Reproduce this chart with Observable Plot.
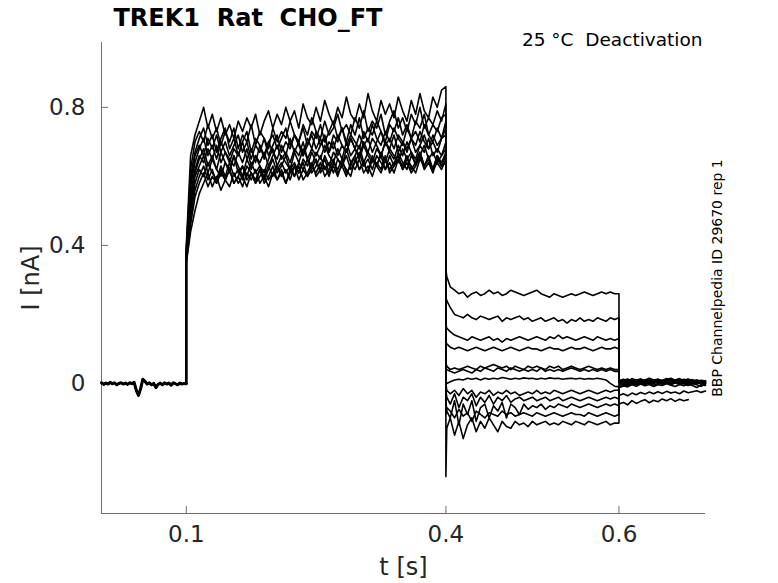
<!DOCTYPE html>
<html>
<head>
<meta charset="utf-8">
<script src="https://cdn.jsdelivr.net/npm/d3@7"></script>
<script src="https://cdn.jsdelivr.net/npm/@observablehq/plot@0.6"></script>
<style>
  body { margin: 0; background: #fff; }
  svg text { white-space: pre; }
  g[aria-label="x-axis tick label"], g[aria-label="y-axis tick label"] { font-size: 23px; }
</style>
</head>
<body>
<div id="chart"></div>
<script>
// ---------------- data (current in nA, time in s) ----------------
const title = "TREK1  Rat  CHO_FT";
const subtitle = "25 °C  Deactivation";
const sideNote = "BBP Channelpedia ID 29670 rep 1";
const xLabel = "t [s]";
const yLabel = "I [nA]";
const xTicks = [0.1, 0.4, 0.6];
const yTicks = [0, 0.4, 0.8];
const xDomain = [0.002, 0.7];
const yDomain = [-0.377, 0.988];

// holding period before the step (shared by all sweeps), 0.002 -> 0.1 s
const pre = [
  0.002,-0.003,0.001,-0.002,0.003,-0.001,0.002,-0.004,0.0,0.002,
  -0.002,0.001,-0.003,0.002,-0.001,0.003,-0.02,-0.035,-0.015,0.012,
  0.006,-0.002,0.002,-0.004,0.0,-0.012,-0.003,0.001,-0.004,0.002,
  -0.002,0.001,-0.005,0.002,-0.001,-0.004,0.001,-0.002,0.0,-0.001
];

// activation step, 0.1 -> 0.4 s (61 samples per sweep)
const act = [
  [0.40,0.66,0.72,0.76,0.80,0.74,0.78,0.73,0.77,0.72, 0.75,0.71,0.76,0.73,0.77,0.74,0.78,0.72,0.76,0.79, 0.74,0.78,0.75,0.80,0.76,0.79,0.74,0.81,0.77,0.75, 0.80,0.76,0.82,0.78,0.75,0.80,0.77,0.83,0.78,0.76, 0.81,0.77,0.84,0.79,0.76,0.82,0.78,0.81,0.77,0.83, 0.79,0.76,0.82,0.78,0.84,0.79,0.77,0.83,0.80,0.85, 0.86],
  [0.39,0.62,0.70,0.73,0.70,0.75,0.71,0.74,0.69,0.73, 0.70,0.74,0.68,0.72,0.70,0.75,0.69,0.73,0.71,0.68, 0.74,0.70,0.73,0.71,0.76,0.72,0.70,0.75,0.72,0.77, 0.73,0.71,0.76,0.72,0.74,0.78,0.73,0.75,0.72,0.77, 0.74,0.79,0.73,0.76,0.74,0.78,0.72,0.76,0.79,0.74, 0.77,0.73,0.78,0.75,0.80,0.74,0.77,0.75,0.79,0.76, 0.81],
  [0.38,0.60,0.67,0.71,0.74,0.69,0.72,0.67,0.71,0.74, 0.68,0.71,0.66,0.70,0.73,0.67,0.71,0.69,0.65,0.70, 0.72,0.68,0.71,0.74,0.69,0.72,0.70,0.74,0.69,0.73, 0.71,0.75,0.70,0.73,0.76,0.71,0.74,0.70,0.75,0.72, 0.77,0.71,0.74,0.72,0.76,0.73,0.70,0.75,0.73,0.77, 0.72,0.75,0.71,0.76,0.74,0.78,0.72,0.75,0.73,0.77, 0.78],
  [0.37,0.58,0.66,0.69,0.66,0.71,0.68,0.72,0.67,0.70, 0.66,0.69,0.72,0.67,0.70,0.65,0.69,0.67,0.71,0.66, 0.69,0.72,0.67,0.70,0.68,0.72,0.69,0.66,0.71,0.68, 0.73,0.69,0.71,0.67,0.72,0.70,0.74,0.69,0.72,0.70, 0.68,0.73,0.70,0.75,0.71,0.69,0.73,0.70,0.74,0.71, 0.69,0.74,0.71,0.73,0.70,0.75,0.72,0.70,0.74,0.71, 0.76],
  [0.38,0.57,0.64,0.68,0.71,0.66,0.69,0.65,0.70,0.67, 0.64,0.68,0.66,0.70,0.65,0.68,0.64,0.69,0.66,0.70, 0.67,0.65,0.69,0.66,0.71,0.67,0.70,0.66,0.69,0.72, 0.68,0.71,0.67,0.70,0.68,0.72,0.69,0.67,0.71,0.68, 0.72,0.69,0.71,0.67,0.70,0.73,0.69,0.71,0.68,0.72, 0.70,0.67,0.71,0.69,0.73,0.70,0.68,0.72,0.69,0.71, 0.74],
  [0.37,0.55,0.62,0.66,0.64,0.68,0.65,0.69,0.64,0.67, 0.65,0.63,0.67,0.64,0.68,0.63,0.66,0.64,0.67,0.63, 0.66,0.69,0.65,0.67,0.64,0.68,0.66,0.70,0.65,0.68, 0.66,0.69,0.72,0.67,0.70,0.66,0.69,0.67,0.71,0.68, 0.66,0.70,0.67,0.71,0.69,0.66,0.70,0.68,0.72,0.67, 0.70,0.68,0.71,0.67,0.69,0.72,0.68,0.70,0.67,0.71, 0.72],
  [0.36,0.53,0.61,0.65,0.68,0.63,0.66,0.62,0.67,0.64, 0.61,0.66,0.63,0.60,0.65,0.62,0.66,0.63,0.61,0.65, 0.68,0.63,0.66,0.64,0.62,0.67,0.64,0.68,0.65,0.63, 0.67,0.65,0.69,0.66,0.64,0.68,0.65,0.70,0.66,0.68, 0.65,0.69,0.66,0.64,0.68,0.66,0.70,0.67,0.65,0.69, 0.66,0.70,0.67,0.65,0.69,0.67,0.71,0.66,0.68,0.66, 0.70],
  [0.37,0.52,0.60,0.63,0.66,0.61,0.65,0.62,0.60,0.64, 0.62,0.66,0.61,0.63,0.60,0.64,0.61,0.63,0.59,0.62, 0.65,0.61,0.63,0.66,0.62,0.64,0.61,0.65,0.63,0.67, 0.64,0.62,0.66,0.63,0.67,0.65,0.63,0.68,0.64,0.66, 0.69,0.64,0.67,0.65,0.63,0.67,0.64,0.68,0.66,0.64, 0.68,0.65,0.67,0.63,0.66,0.69,0.65,0.67,0.64,0.66, 0.68],
  [0.36,0.50,0.58,0.62,0.60,0.64,0.61,0.59,0.63,0.60, 0.64,0.60,0.62,0.59,0.63,0.61,0.58,0.62,0.60,0.63, 0.60,0.62,0.64,0.61,0.63,0.60,0.64,0.62,0.65,0.61, 0.63,0.66,0.62,0.64,0.61,0.65,0.63,0.66,0.62,0.64, 0.67,0.63,0.65,0.62,0.66,0.64,0.62,0.66,0.63,0.67, 0.64,0.62,0.66,0.64,0.67,0.63,0.65,0.62,0.66,0.64, 0.67],
  [0.36,0.48,0.56,0.60,0.63,0.59,0.62,0.58,0.61,0.59, 0.62,0.58,0.60,0.63,0.59,0.61,0.58,0.60,0.62,0.59, 0.61,0.63,0.60,0.62,0.59,0.63,0.61,0.64,0.60,0.62, 0.65,0.61,0.63,0.60,0.64,0.62,0.65,0.61,0.63,0.66, 0.62,0.64,0.61,0.65,0.63,0.66,0.62,0.64,0.61,0.65, 0.63,0.66,0.62,0.64,0.67,0.63,0.65,0.62,0.66,0.63, 0.66],
  [0.35,0.46,0.54,0.58,0.61,0.57,0.60,0.58,0.62,0.59, 0.57,0.61,0.58,0.60,0.57,0.61,0.59,0.62,0.58,0.60, 0.63,0.59,0.61,0.58,0.62,0.60,0.63,0.59,0.61,0.64, 0.60,0.62,0.65,0.61,0.63,0.60,0.64,0.62,0.60,0.65, 0.62,0.64,0.61,0.66,0.63,0.61,0.65,0.62,0.64,0.66, 0.62,0.65,0.63,0.61,0.65,0.63,0.66,0.62,0.64,0.62, 0.65],
  [0.35,0.44,0.50,0.55,0.58,0.61,0.57,0.60,0.56,0.59, 0.62,0.58,0.60,0.57,0.61,0.59,0.62,0.58,0.60,0.57, 0.61,0.59,0.62,0.58,0.61,0.63,0.59,0.62,0.60,0.63, 0.61,0.64,0.60,0.62,0.65,0.61,0.63,0.60,0.64,0.62, 0.65,0.61,0.63,0.60,0.64,0.62,0.66,0.61,0.63,0.65, 0.62,0.64,0.61,0.63,0.66,0.62,0.64,0.61,0.65,0.63, 0.64]
];

// deactivation tails: samples at 0.4, 0.401, then 0.405 -> 0.6 s
const tail = [
  [0.33,0.31, 0.28,0.27,0.26,0.265,0.25,0.26,0.265,0.255,0.26,0.27, 0.26,0.265,0.255,0.26,0.27,0.265,0.26,0.255,0.26,0.265, 0.27,0.26,0.255,0.25,0.26,0.255,0.25,0.255,0.26,0.255, 0.26,0.265,0.26,0.255,0.26,0.265,0.26,0.265,0.26,0.26],
  [0.25,0.24, 0.22,0.20,0.195,0.19,0.20,0.19,0.185,0.195,0.19,0.185, 0.19,0.195,0.18,0.19,0.185,0.19,0.195,0.185,0.19,0.18, 0.185,0.19,0.18,0.185,0.19,0.18,0.185,0.175,0.185,0.18, 0.19,0.18,0.185,0.18,0.19,0.185,0.18,0.19,0.185,0.19],
  [0.17,0.16, 0.15,0.14,0.135,0.13,0.125,0.135,0.13,0.125,0.13,0.135, 0.125,0.13,0.12,0.13,0.125,0.13,0.135,0.13,0.125,0.13, 0.135,0.13,0.125,0.135,0.13,0.14,0.13,0.135,0.13,0.125, 0.13,0.135,0.13,0.125,0.135,0.13,0.125,0.13,0.125,0.13],
  [0.12,0.115, 0.105,0.10,0.105,0.10,0.095,0.10,0.105,0.10,0.095,0.10, 0.105,0.10,0.095,0.10,0.105,0.10,0.095,0.10,0.105,0.10, 0.10,0.095,0.10,0.105,0.10,0.10,0.095,0.10,0.105,0.10, 0.10,0.105,0.10,0.095,0.10,0.105,0.10,0.10,0.105,0.10],
  [0.06,0.05, 0.04,0.045,0.04,0.045,0.05,0.045,0.04,0.05,0.045,0.05, 0.055,0.05,0.045,0.05,0.04,0.05,0.045,0.04,0.05,0.045, 0.05,0.045,0.04,0.05,0.045,0.05,0.04,0.045,0.05,0.045, 0.04,0.045,0.05,0.045,0.04,0.045,0.04,0.045,0.04,0.04],
  [0.045,0.04, 0.035,0.03,0.035,0.04,0.035,0.03,0.04,0.035,0.045,0.04, 0.035,0.045,0.04,0.035,0.045,0.04,0.035,0.04,0.035,0.04, 0.035,0.045,0.035,0.04,0.035,0.04,0.035,0.04,0.045,0.04, 0.035,0.04,0.035,0.04,0.035,0.04,0.035,0.04,0.035,0.035],
  [-0.005,0.0, 0.005,0.01,0.012,0.01,0.015,0.012,0.015,0.01,0.015,0.012, 0.015,0.013,0.017,0.015,0.012,0.015,0.013,0.016,0.014,0.015, 0.012,0.015,0.013,0.016,0.014,0.015,0.012,0.014,0.015,0.013, 0.015,0.012,0.014,0.013,0.015,0.013,0.01,0.0,-0.008,-0.01],
  [0.0,-0.02, -0.03,-0.02,-0.035,-0.015,-0.03,-0.02,-0.04,-0.025,-0.03,-0.02, -0.035,-0.025,-0.03,-0.02,-0.03,-0.025,-0.035,-0.03,-0.025,-0.03, -0.02,-0.03,-0.025,-0.03,-0.02,-0.025,-0.03,-0.025,-0.02,-0.025, -0.03,-0.025,-0.02,-0.025,-0.03,-0.025,-0.02,-0.025,-0.02,-0.02],
  [-0.02,-0.04, -0.06,-0.03,-0.07,-0.04,-0.05,-0.03,-0.065,-0.04,-0.055,-0.035, -0.06,-0.04,-0.05,-0.035,-0.055,-0.045,-0.04,-0.05,-0.045,-0.04, -0.05,-0.045,-0.04,-0.05,-0.045,-0.04,-0.05,-0.045,-0.04,-0.045, -0.05,-0.045,-0.04,-0.045,-0.05,-0.045,-0.04,-0.045,-0.04,-0.045],
  [-0.05,-0.08, -0.10,-0.05,-0.12,-0.06,-0.09,-0.05,-0.11,-0.07,-0.06,-0.10, -0.065,-0.08,-0.055,-0.10,-0.06,-0.07,-0.09,-0.06,-0.075,-0.065, -0.07,-0.06,-0.075,-0.065,-0.07,-0.06,-0.065,-0.07,-0.06,-0.065, -0.07,-0.065,-0.06,-0.065,-0.07,-0.065,-0.06,-0.065,-0.06,-0.065],
  [-0.09,-0.07, -0.08,-0.10,-0.075,-0.095,-0.085,-0.11,-0.08,-0.09,-0.10,-0.085, -0.09,-0.095,-0.08,-0.09,-0.085,-0.095,-0.09,-0.085,-0.09,-0.095, -0.085,-0.09,-0.095,-0.09,-0.085,-0.09,-0.095,-0.09,-0.085,-0.09, -0.09,-0.095,-0.085,-0.09,-0.095,-0.09,-0.085,-0.09,-0.095,-0.09],
  [-0.27,-0.13, -0.10,-0.15,-0.11,-0.16,-0.12,-0.10,-0.14,-0.11,-0.13,-0.10, -0.12,-0.14,-0.11,-0.125,-0.13,-0.11,-0.12,-0.115,-0.125,-0.11, -0.12,-0.115,-0.11,-0.12,-0.115,-0.12,-0.11,-0.115,-0.12,-0.11, -0.115,-0.12,-0.11,-0.115,-0.12,-0.115,-0.11,-0.12,-0.115,-0.115]
];

// after the test pulse, from 0.6 s every 5 ms
const post = [
  [0.008,0.012,0.006,0.014,0.009,0.013,0.007,0.015,0.01,0.012,0.008,0.014,0.01,0.006,0.012,0.009,0.013,0.007,0.01,0.005,0.008],
  [0.004,0.009,0.013,0.006,0.011,0.004,0.01,0.014,0.008,0.012,0.005,0.011,0.015,0.009,0.006,0.012,0.008,0.011,0.006,0.009,0.007],
  [0.01,0.005,0.011,0.003,0.009,0.012,0.006,0.01,0.004,0.011,0.008,0.013,0.006,0.01,0.014,0.007,0.011,0.005,0.009,0.006,0.004],
  [0.002,0.008,0.004,0.01,0.006,0.002,0.009,0.005,0.011,0.007,0.003,0.009,0.012,0.006,0.01,0.004,0.008,0.003,0.007,0.004,0.006],
  [0.006,0.001,0.007,0.003,0.009,0.005,0.01,0.004,0.008,0.002,0.009,0.006,0.011,0.005,0.008,0.003,0.009,0.006,0.002,0.007,0.003],
  [0.0,0.005,0.002,0.007,0.003,0.008,0.001,0.006,0.004,0.009,0.003,0.007,0.002,0.008,0.005,0.01,0.004,0.006,0.001,0.005,0.002],
  [-0.012,-0.008,-0.004,0.0,-0.003,0.002,-0.002,0.003,0.0,0.004,-0.001,0.003,0.001,0.005,0.0,0.004,-0.002,0.002,0.0,0.003,-0.001],
  [-0.004,0.002,-0.002,0.004,0.0,0.005,-0.001,0.003,0.001,0.006,-0.002,0.004,0.0,0.005,0.002,-0.001,0.003,0.0,0.004,-0.002,0.001],
  [-0.008,-0.002,-0.006,0.0,-0.004,0.002,-0.003,0.001,-0.005,0.0,-0.002,0.003,-0.004,0.001,-0.003,0.0,-0.006,-0.001,-0.004,-0.008,-0.002],
  [-0.035,-0.03,-0.036,-0.028,-0.033,-0.026,-0.031,-0.025,-0.03,-0.024,-0.029,-0.023,-0.028,-0.025,-0.03,-0.022,-0.027,-0.024,-0.021,-0.026,-0.022],
  [-0.012,-0.006,-0.01,-0.004,-0.008,-0.002,-0.007,-0.003,-0.009,-0.004,-0.006,-0.001,-0.005,-0.009,-0.003,-0.007,-0.002,-0.006,-0.012,-0.004,-0.006],
  [-0.06,-0.055,-0.062,-0.05,-0.058,-0.052,-0.047,-0.056,-0.049,-0.053,-0.045,-0.05,-0.044,-0.052,-0.046,-0.05,-0.047]
];

// ---------------- build rows ----------------
const preRows = pre.map((v, i) => ({t: xDomain[0] + i * (0.1 - xDomain[0]) / (pre.length - 1), I: v}));
const rows = [];
act.forEach((a, k) => {
  preRows.forEach(r => rows.push({k, t: r.t, I: r.I}));
  a.forEach((v, i) => rows.push({k, t: 0.1 + i * 0.3 / (a.length - 1), I: v}));
  const tl = tail[k];
  tl.forEach((v, i) => rows.push({k, t: i === 0 ? 0.4 : i === 1 ? 0.401 : 0.405 + (i - 2) * 0.195 / (tl.length - 3), I: v}));
  post[k].forEach((v, i) => rows.push({k, t: 0.6 + i * 0.005, I: v}));
});

const axisGray = "#6e6e6e";
const textDark = "#262626";

const chart = Plot.plot({
  width: 778,
  height: 583,
  marginLeft: 101,
  marginRight: 73,
  marginTop: 42,
  marginBottom: 70,
  style: {fontFamily: "DejaVu Sans", background: "#fff", overflow: "visible"},
  x: {domain: xDomain},
  y: {domain: yDomain},
  marks: [
    Plot.ruleX([xDomain[0]], {stroke: axisGray}),
    Plot.ruleY([yDomain[0]], {stroke: axisGray}),
    Plot.axisX({ticks: xTicks, tickFormat: d => String(d), tickSize: -7, tickPadding: 19, stroke: axisGray, fill: textDark, fontSize: 23, label: null}),
    Plot.axisY({ticks: yTicks, tickFormat: d => String(d), tickSize: -7, tickPadding: 23, stroke: axisGray, fill: textDark, fontSize: 23, label: null}),
    Plot.line(rows, {x: "t", y: "I", z: "k", stroke: "#000", strokeWidth: 1.6, strokeLinejoin: "round"}),
    Plot.line(preRows, {x: "t", y: "I", stroke: "#000", strokeWidth: 3}),
    Plot.text([title], {text: d => d, frameAnchor: "top-left", dx: 12, dy: -24.5, textAnchor: "start", lineAnchor: "middle", fontWeight: "bold", fontSize: 24, fill: "#000"}),
    Plot.text([subtitle], {text: d => d, frameAnchor: "top-right", dx: -3, dy: -2, textAnchor: "end", lineAnchor: "middle", fontSize: 18.5, fill: "#000"}),
    Plot.text([sideNote], {text: d => d, frameAnchor: "right", dx: 12.5, rotate: -90, textAnchor: "middle", lineAnchor: "middle", fontSize: 14, fill: "#000"}),
    Plot.text([yLabel], {text: d => d, frameAnchor: "left", dx: -70, rotate: -90, textAnchor: "middle", lineAnchor: "middle", fontSize: 24, fill: textDark}),
    Plot.text([xLabel], {text: d => d, frameAnchor: "bottom", dy: 54, textAnchor: "middle", lineAnchor: "middle", fontSize: 24, fill: textDark})
  ]
});
document.getElementById("chart").appendChild(chart);
</script>
</body>
</html>
